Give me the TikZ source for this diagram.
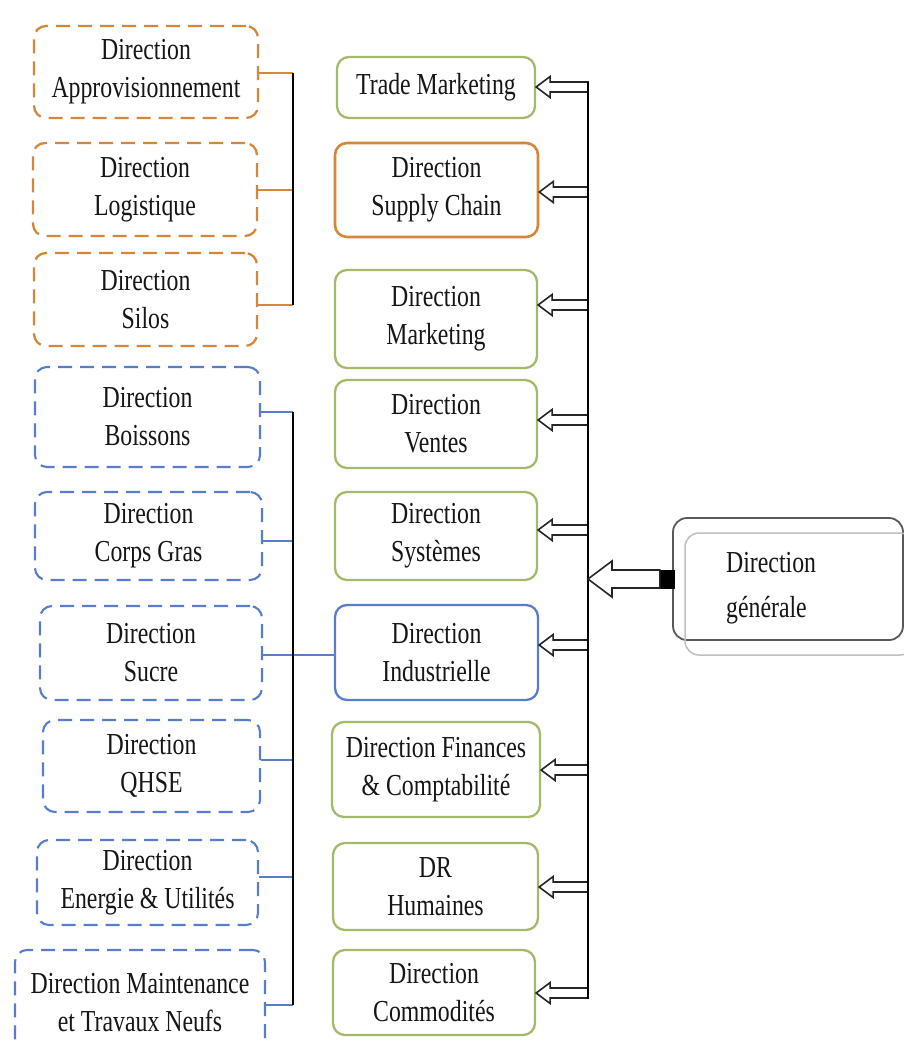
\documentclass[tikz,border=0pt]{standalone}
\usepackage{fontspec}
\setmainfont{Liberation Serif}[FakeStretch=0.78]
\usetikzlibrary{calc}

\definecolor{orgline}{HTML}{D4873A}
\definecolor{grnline}{HTML}{A3BA6A}
\definecolor{bluline}{HTML}{5A7DCB}
\definecolor{txt}{HTML}{161616}

% hollow block arrow: from (#1) to the tip at x of (#2), on the height of (#1)
% #3 head length, #4 half head width, #5 half shaft width
\newcommand\hollowfeed[5]{%
  \draw[feed] let \p1=(#1), \p2=(#2) in
    (\x2,\y1) -- (\x2+#3,\y1+#4) -- (\x2+#3,\y1+#5) -- (\x1,\y1+#5)
    -- (\x1,\y1-#5) -- (\x2+#3,\y1-#5) -- (\x2+#3,\y1-#4) -- cycle;}

\tikzset{
  unit/.style={rectangle, rounded corners=12, line width=2.3, align=center,
    inner sep=0, text=txt, font=\fontsize{30.5}{38}\selectfont},
  dept/.style={unit, draw=grnline},
  deptorg/.style={unit, draw=orgline, line width=2.6},
  deptblu/.style={unit, draw=bluline},
  suborg/.style={unit, draw=orgline, dash pattern=on 14pt off 8pt},
  subblu/.style={unit, draw=bluline, line width=2.1, dash pattern=on 14pt off 8pt},
  orgconn/.style={draw=orgline, line width=2},
  bluconn/.style={draw=bluline, line width=1.7},
  bracket/.style={draw=black, line width=2.8},
  bus/.style={draw=black, line width=2.8},
  feed/.style={draw=black!85, fill=white, line width=1.6, line join=miter},
}

\begin{document}
\begin{tikzpicture}[x=1pt, y=-1pt]
\fill[white] (0,0) rectangle (904,1045);
\useasboundingbox (0,0) rectangle (904,1045);

% ---- supply chain sub-directions
\node[suborg, minimum width=224, minimum height=92] (oa) at (146,72) {Direction\\Approvisionnement};
\node[suborg, minimum width=224, minimum height=93] (ol) at (145,189.5) {Direction\\Logistique};
\node[suborg, minimum width=223, minimum height=93] (os) at (145.5,299.5) {Direction\\Silos};

% ---- industrial sub-directions
\node[subblu, minimum width=225, minimum height=100] (bb) at (147.5,417) {Direction\\Boissons};
\node[subblu, minimum width=227, minimum height=88] (bc) at (148.5,536) {Direction\\Corps Gras};
\node[subblu, minimum width=222, minimum height=94] (bs) at (151,653) {Direction\\Sucre};
\node[subblu, minimum width=217, minimum height=92] (bq) at (151.5,766) {Direction\\QHSE};
\node[subblu, minimum width=221, minimum height=85] (be) at (147.5,882.5) {Direction\\Energie \& Utilités};
\node[subblu, minimum width=250, minimum height=105] (bm) at (140,1002.5) {Direction Maintenance\\et Travaux Neufs};

% ---- directions
\node[dept, minimum width=198, minimum height=61] (mt) at (436,87.5) {Trade Marketing};
\node[deptorg, minimum width=203, minimum height=94] (ms) at (436.5,190) {Direction\\Supply Chain};
\node[dept, minimum width=202, minimum height=98] (mm) at (436,319) {Direction\\Marketing};
\node[dept, minimum width=202, minimum height=88] (mv) at (436,424) {Direction\\Ventes};
\node[dept, minimum width=202, minimum height=88] (my) at (436,536) {Direction\\Systèmes};
\node[deptblu, minimum width=203, minimum height=95] (mi) at (436.5,652.5) {Direction\\Industrielle};
\node[dept, minimum width=208, minimum height=95] (mf) at (436,769.5) {Direction Finances\\\& Comptabilité};
\node[dept, minimum width=205, minimum height=87] (mh) at (435.5,886.5) {DR\\Humaines};
\node[dept, minimum width=202, minimum height=85] (mc) at (434,992.5) {Direction\\Commodités};

% ---- orange bracket
\coordinate (o1) at (293,73);
\coordinate (o2) at (293,190);
\coordinate (o3) at (293,305);
\draw[orgconn] (oa.east |- o1) -- (o1);
\draw[orgconn] (ol.east |- o2) -- (o2);
\draw[orgconn] (os.east |- o3) -- (o3);
\draw[bracket] (o1) -- (o3);

% ---- blue bracket
\coordinate (c1) at (293,412);
\coordinate (c2) at (293,541);
\coordinate (c3) at (293,655);
\coordinate (c4) at (293,760);
\coordinate (c5) at (293,877);
\coordinate (c6) at (293,1005);
\draw[bluconn] (bb.east |- c1) -- (c1);
\draw[bluconn] (bc.east |- c2) -- (c2);
\draw[bluconn] (bs.east |- c3) -- (mi.west |- c3);
\draw[bluconn] (bq.east |- c4) -- (c4);
\draw[bluconn] (be.east |- c5) -- (c5);
\draw[bluconn] (bm.east |- c6) -- (c6);
\draw[bracket] (c1) -- (c6);

% ---- distribution bus and arrows
\coordinate (b1) at (588,87);
\coordinate (b2) at (588,192);
\coordinate (b3) at (588,305);
\coordinate (b4) at (588,420);
\coordinate (b5) at (588,530);
\coordinate (b6) at (588,645);
\coordinate (b7) at (588,770);
\coordinate (b8) at (588,887);
\coordinate (b9) at (588,993);
\coordinate (bmid) at (588,579);

\hollowfeed{b1}{mt.east}{14pt}{10.5pt}{5pt}
\hollowfeed{b2}{ms.east}{14pt}{10.5pt}{5pt}
\hollowfeed{b3}{mm.east}{14pt}{10.5pt}{5pt}
\hollowfeed{b4}{mv.east}{14pt}{10.5pt}{5pt}
\hollowfeed{b5}{my.east}{14pt}{10.5pt}{5pt}
\hollowfeed{b6}{mi.east}{14pt}{10.5pt}{5pt}
\hollowfeed{b7}{mf.east}{14pt}{10.5pt}{5pt}
\hollowfeed{b8}{mh.east}{14pt}{10.5pt}{5pt}
\hollowfeed{b9}{mc.east}{14pt}{10.5pt}{5pt}
\draw[bus] ($(b1)+(0,-5.5)$) -- ($(b9)+(0,5.5)$);

% ---- general management
\node[rectangle, rounded corners=14, draw=black!65, line width=1.8,
      minimum width=230, minimum height=122] (dg) at (788,579) {};
\draw[draw=black!25, line width=1.5, rounded corners=14] (685,533) rectangle (914,655);
\node[anchor=west, align=left, inner sep=0, text=txt,
      font=\fontsize{30.5}{45}\selectfont] (dgt) at (726,588) {Direction\\générale};
\node[rectangle, fill=black, inner sep=0, minimum width=15, minimum height=19] (sq) at (667.5,579.5) {};

\draw[feed] let \p1=(sq.west), \p2=(bmid) in
  (\x2,\y2) -- (\x2+24pt,\y2+18pt) -- (\x2+24pt,\y2+9pt) -- (\x1,\y2+9pt)
  -- (\x1,\y2-9pt) -- (\x2+24pt,\y2-9pt) -- (\x2+24pt,\y2-18pt) -- cycle;
\end{tikzpicture}
\end{document}
